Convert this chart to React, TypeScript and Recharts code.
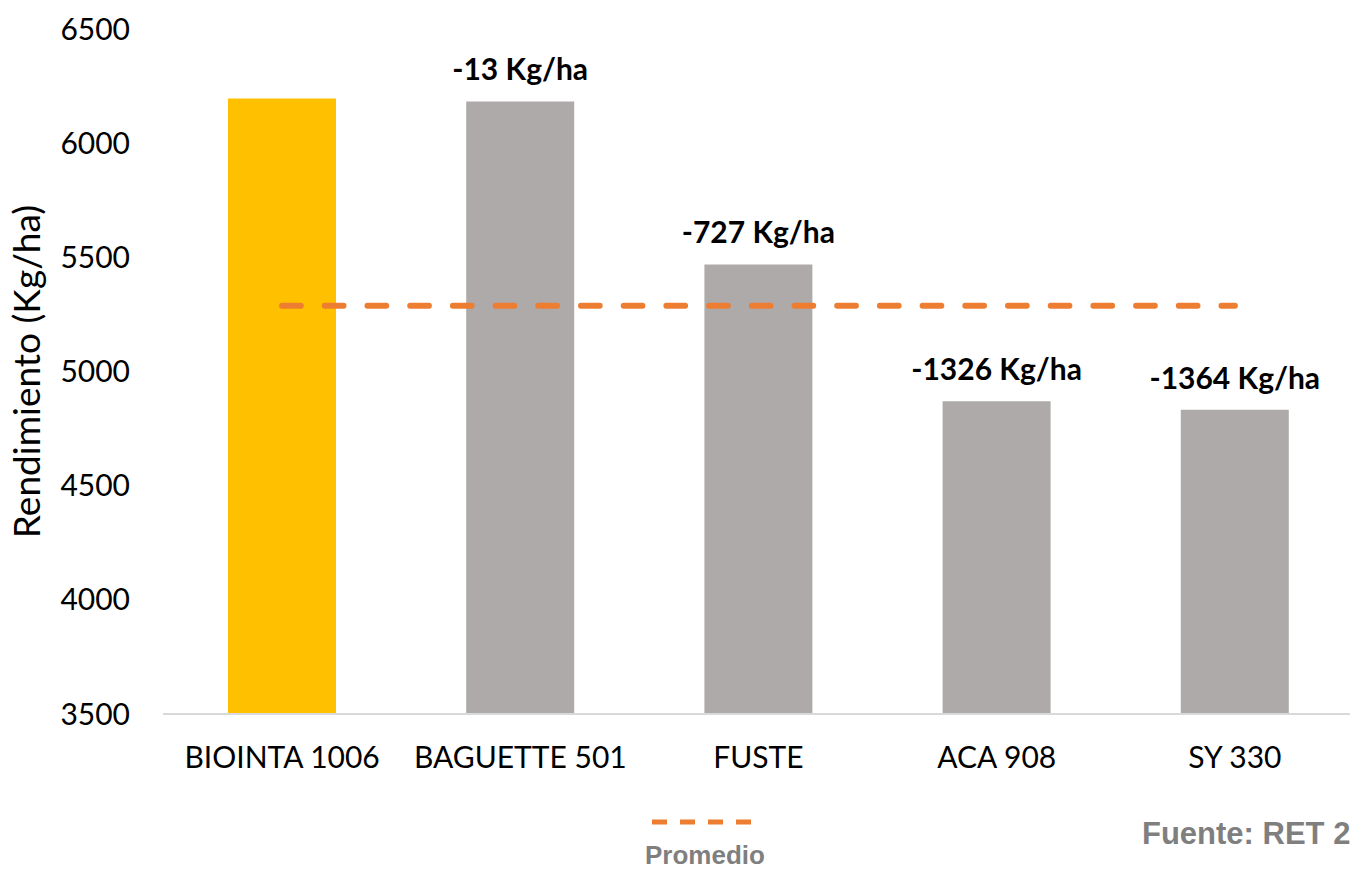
import {
  Bar,
  Cell,
  ComposedChart,
  LabelList,
  Line,
  XAxis,
  YAxis,
} from "recharts";

const variedades = ["BIOINTA 1006", "BAGUETTE 501", "FUSTE", "ACA 908", "SY 330"];
const rendimiento = [6196, 6183, 5469, 4870, 4832];
const diferencia: (number | null)[] = [null, -13, -727, -1326, -1364];
const promedio = [5288, 5288, 5288, 5288, 5288];
const yTicks = [3500, 4000, 4500, 5000, 5500, 6000, 6500];

const barColors = ["#FFC000", "#AEAAAA", "#AEAAAA", "#AEAAAA", "#AEAAAA"];
const ORANGE = "#ED7D31";
const FONT = "Lato, 'Open Sans', sans-serif";
const ARIAL = "'Liberation Sans', Arial, sans-serif";

const data = variedades.map((name, i) => ({
  name,
  value: rendimiento[i],
  diff: diferencia[i],
  promedio: promedio[i],
}));

function YTitle({ viewBox }: { viewBox?: { x: number; y: number; height: number } }) {
  if (!viewBox) return null;
  const cy = viewBox.y + viewBox.height / 2;
  return (
    <text
      x={40}
      y={cy}
      transform={`rotate(-90, 40, ${cy})`}
      textAnchor="middle"
      fontFamily={FONT}
      fontSize={37}
      fill="#000"
    >
      Rendimiento (Kg/ha)
    </text>
  );
}

export default function App() {
  return (
    <div
      style={{
        position: "fixed",
        left: 0,
        top: 0,
        width: 1350,
        height: 869,
        overflow: "hidden",
        background: "#fff",
      }}
    >
      <ComposedChart
        width={1360}
        height={869}
        data={data}
        margin={{ top: 29, right: 6, bottom: 95, left: 0 }}
      >
        <XAxis
          dataKey="name"
          height={60}
          tickSize={0}
          tickMargin={33}
          tickLine={false}
          axisLine={{ stroke: "#D9D9D9", strokeWidth: 2 }}
          tick={{ fill: "#000", fontSize: 30, fontFamily: FONT }}
          interval={0}
        />
        <YAxis
          width={163}
          domain={[3500, 6500]}
          ticks={yTicks}
          allowDataOverflow
          tickSize={0}
          tickMargin={33}
          tickLine={false}
          axisLine={false}
          tick={{ fill: "#000", fontSize: 30, fontFamily: FONT }}
          label={<YTitle />}
        />
        <Bar dataKey="value" barSize={108} isAnimationActive={false}>
          {data.map((d, i) => (
            <Cell key={d.name} fill={barColors[i]} />
          ))}
          <LabelList
            dataKey="diff"
            position="top"
            offset={21}
            formatter={(v: unknown) => (v === null || v === undefined ? "" : `${v} Kg/ha`)}
            style={{ fontFamily: FONT, fontSize: 30, fontWeight: 700, fill: "#000" }}
          />
        </Bar>
        <Line
          dataKey="promedio"
          stroke={ORANGE}
          strokeWidth={6}
          strokeDasharray="18.7 24"
          strokeLinecap="round"
          dot={false}
          activeDot={false}
          isAnimationActive={false}
        />
      </ComposedChart>

      <svg
        width={110}
        height={12}
        style={{ position: "absolute", left: 648, top: 816 }}
      >
        <line
          x1={4}
          y1={6}
          x2={103}
          y2={6}
          stroke={ORANGE}
          strokeWidth={5}
          strokeDasharray="15 13"
        />
      </svg>
      <div
        style={{
          position: "absolute",
          left: 605,
          width: 200,
          top: 840,
          textAlign: "center",
          fontFamily: ARIAL,
          fontWeight: 700,
          fontSize: 26,
          lineHeight: "30px",
          color: "#7F7F7F",
        }}
      >
        Promedio
      </div>
      <div
        style={{
          position: "absolute",
          left: 1142,
          top: 816,
          whiteSpace: "nowrap",
          fontFamily: ARIAL,
          fontWeight: 700,
          fontSize: 31,
          lineHeight: "36px",
          color: "#7F7F7F",
        }}
      >
        Fuente: RET 2020
      </div>
    </div>
  );
}
